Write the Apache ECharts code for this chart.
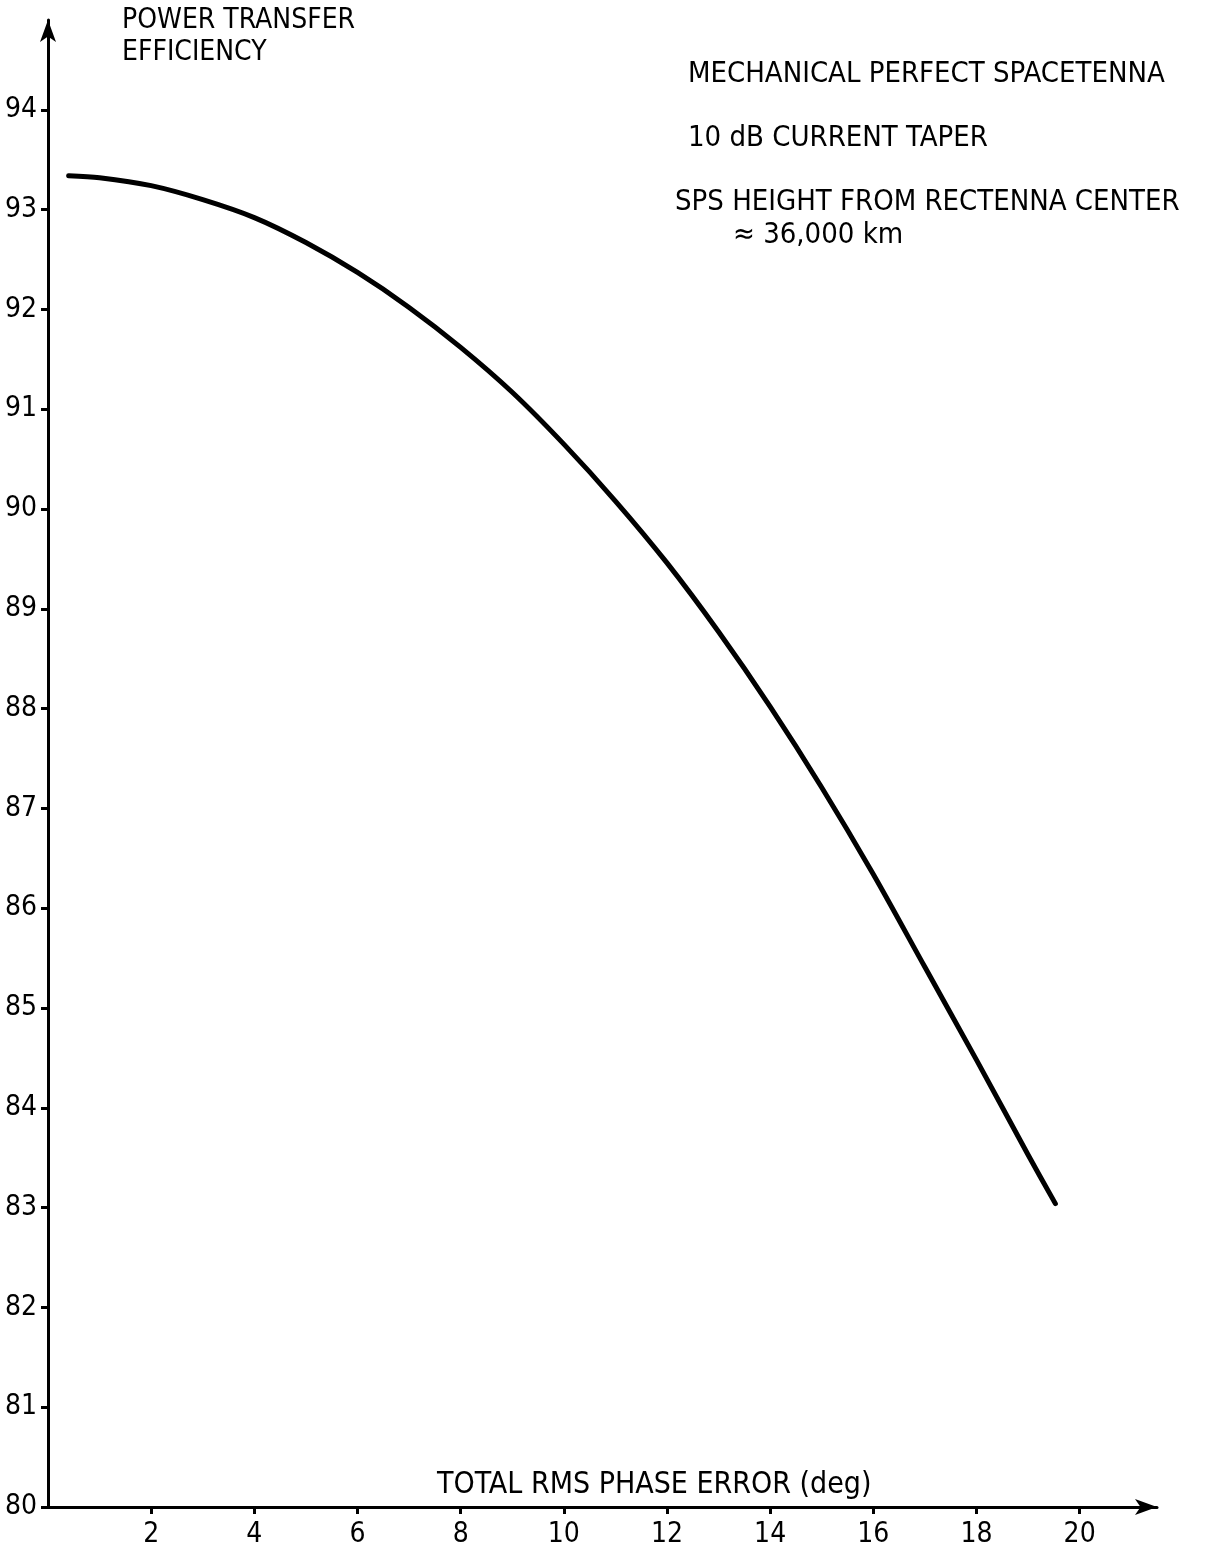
<!DOCTYPE html>
<html>
<head>
<meta charset="utf-8">
<script src="https://cdn.jsdelivr.net/npm/echarts@6/dist/echarts.min.js"></script>
<style>
  html, body { margin: 0; padding: 0; background: #fff; }
  #chart { width: 1210px; height: 1556px; }
</style>
</head>
<body>
<div id="chart"></div>
<script>
// Data
const phaseError = [0.4, 1, 2, 3, 4, 5, 6, 7, 8, 9, 10, 11, 12, 13, 14, 15, 16, 17, 18, 19, 19.53];
const efficiency = [93.34, 93.32, 93.24, 93.10, 92.92, 92.67, 92.37, 92.02, 91.62, 91.17, 90.65, 90.08, 89.46, 88.77, 88.02, 87.21, 86.34, 85.41, 84.48, 83.53, 83.04];
const xTickValues = [2, 4, 6, 8, 10, 12, 14, 16, 18, 20];
const yTickValues = [80, 81, 82, 83, 84, 85, 86, 87, 88, 89, 90, 91, 92, 93, 94];
const yAxisTitle = 'POWER TRANSFER\nEFFICIENCY';
const xAxisTitle = 'TOTAL RMS PHASE ERROR (deg)';
const notes = ['MECHANICAL PERFECT SPACETENNA', '10 dB CURRENT TAPER', 'SPS HEIGHT FROM RECTENNA CENTER', '\u2248 36,000 km'];

const FONT = '"DejaVu Sans Condensed", "Liberation Sans Narrow", sans-serif';
const seriesData = phaseError.map((x, i) => [x, efficiency[i]]);

const chart = echarts.init(document.getElementById('chart'), null, { renderer: 'canvas' });
chart.setOption({
  backgroundColor: '#ffffff',
  animation: false,
  grid: { left: 48, right: 53, top: 20, bottom: 49, containLabel: false },
  xAxis: {
    type: 'value', min: 0, max: 21.5, interval: 2,
    axisLine: { show: true, lineStyle: { color: '#000', width: 3 }, symbol: ['none', 'arrow'], symbolSize: [12, 22] },
    axisTick: { show: true, inside: false, length: 7, customValues: xTickValues, lineStyle: { color: '#000', width: 3 } },
    axisLabel: { show: true, customValues: xTickValues, margin: 14, color: '#000', fontFamily: FONT, fontSize: 28 },
    splitLine: { show: false }
  },
  yAxis: {
    type: 'value', min: 80, max: 94.9, interval: 1,
    axisLine: { show: true, lineStyle: { color: '#000', width: 3 }, symbol: ['none', 'arrow'], symbolSize: [12, 22] },
    axisTick: { show: true, inside: false, length: 7, customValues: yTickValues, lineStyle: { color: '#000', width: 3 } },
    axisLabel: { show: true, customValues: yTickValues, margin: 11, color: '#000', fontFamily: FONT, fontSize: 28 },
    splitLine: { show: false }
  },
  series: [{
    type: 'line',
    data: seriesData,
    smooth: 0.3,
    symbol: 'none',
    lineStyle: { color: '#000', width: 5, cap: 'round', join: 'round' }
  }],
  graphic: [
    { type: 'text', left: 122, top: 5, style: { text: yAxisTitle, fill: '#000', font: '28px ' + FONT, lineHeight: 32 } },
    { type: 'text', left: 437, top: 1470, style: { text: xAxisTitle, fill: '#000', font: '30px ' + FONT } },
    { type: 'text', left: 688, top: 60, style: { text: notes[0], fill: '#000', font: '29px ' + FONT } },
    { type: 'text', left: 688, top: 124, style: { text: notes[1], fill: '#000', font: '29px ' + FONT } },
    { type: 'text', left: 675, top: 188, style: { text: notes[2], fill: '#000', font: '29px ' + FONT } },
    { type: 'text', left: 733, top: 221, style: { text: notes[3], fill: '#000', font: '29px ' + FONT } }
  ]
});
</script>
</body>
</html>
